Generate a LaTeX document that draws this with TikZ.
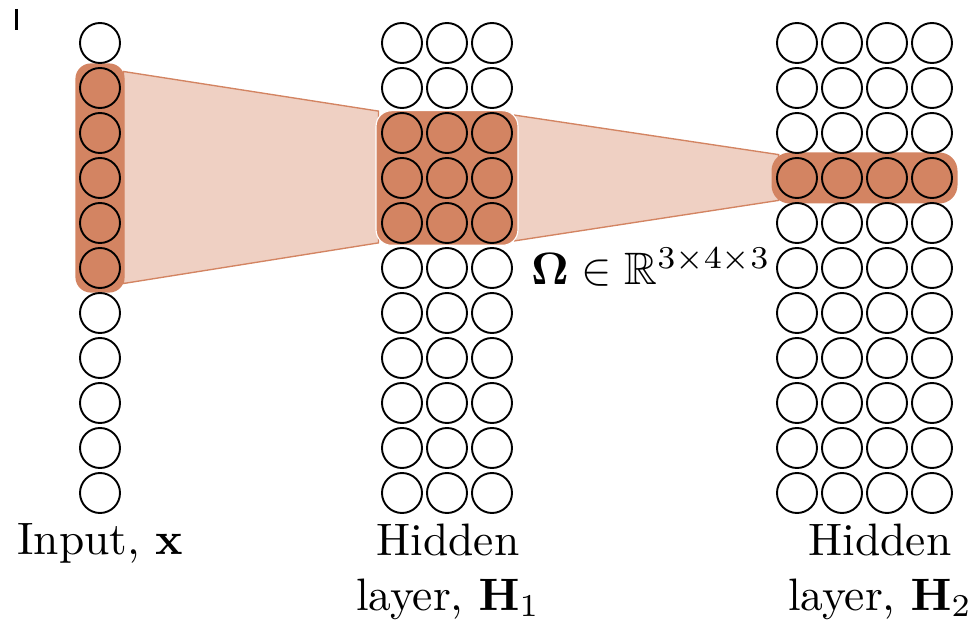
\documentclass[tikz,border=0pt]{standalone}
\usepackage{amsmath,amssymb}
\usetikzlibrary{fit,calc}
\definecolor{hl}{HTML}{D38462}
\definecolor{hllight}{HTML}{EFD0C3}
\pgfdeclarelayer{bgzero}
\pgfdeclarelayer{bgone}
\pgfsetlayers{bgzero,bgone,main}
\begin{document}
\begin{tikzpicture}[x=0.22pt,y=-0.22pt,
  unit/.style={circle,draw=black,line width=0.42pt,minimum size=8.8pt,inner sep=0pt},
  hlbox/.style={fill=hl,rounded corners=3.4pt},
  trap/.style={fill=hllight,draw=hl,line width=0.3pt},
  lbl/.style={align=center,anchor=base,inner sep=0pt}]
\useasboundingbox (0,0) rectangle (976,620);
% units
\foreach \r in {0,...,10} {
  \node[unit] (in-\r) at (100,43+45*\r) {};
  \foreach \c in {0,1,2} {\node[unit] (ha-\c-\r) at (402+45*\c,43+45*\r) {};}
  \foreach \c in {0,...,3} {\node[unit] (hb-\c-\r) at (797+45*\c,43+45*\r) {};}
}
% highlight boxes
\begin{pgfonlayer}{bgone}
  \node[hlbox, fit=(in-1)(in-5), inner sep=0.8pt] (inbox) {};
  \node[hlbox, draw=white, line width=0.25pt, fit=(ha-0-2)(ha-2-4), inner xsep=1.1pt, inner ysep=0.3pt] (habox) {};
  \node[hlbox, fit=(hb-0-3)(hb-3-3), inner sep=1pt, rounded corners=4pt] (hbbox) {};
\end{pgfonlayer}
% receptive-field trapezoids
\begin{pgfonlayer}{bgzero}
  \draw[trap] ($(inbox.north east)+(-2,9)$) -- ($(habox.north west)+(3,1)$)
     -- ($(habox.south west)+(3,-3)$) -- ($(inbox.south east)+(-2,-10)$) -- cycle;
  \draw[trap] ($(habox.north east)+(-4,5)$) -- ($(hbbox.north west)+(8,3)$)
     -- ($(hbbox.south west)+(8,-4)$) -- ($(habox.south east)+(-4,-5)$) -- cycle;
\end{pgfonlayer}
% labels
\node[anchor=base] (omega) at (651,285) {$\boldsymbol{\Omega}\in\mathbb{R}^{3\times4\times3}$};
\node[lbl] (lin) at (100,554) {Input, $\mathbf{x}$};
\node[lbl] (lha) at (448,610) {Hidden\\layer, $\mathbf{H}_1$};
\node[lbl] (lhb) at (880,610) {Hidden\\layer, $\mathbf{H}_2$};
% stray mark at top left
\draw[line width=0.5pt] (16.5,9) -- (16.5,30);
\end{tikzpicture}
\end{document}
